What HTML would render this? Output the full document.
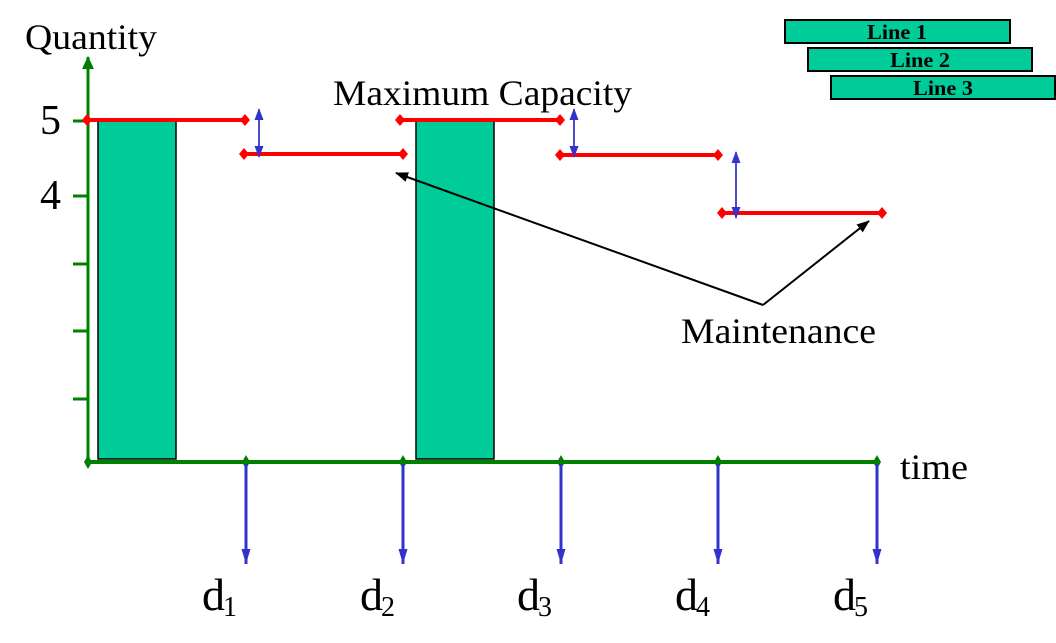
<!DOCTYPE html>
<html><head><style>
html,body{margin:0;padding:0;background:#fff;}
svg{display:block;font-family:"Liberation Serif",serif;}
</style></head><body>
<svg width="1056" height="643" viewBox="0 0 1056 643" xmlns="http://www.w3.org/2000/svg">
<defs>
<marker id="bl" markerWidth="12" markerHeight="12" refX="11" refY="6" orient="auto" markerUnits="userSpaceOnUse"><path d="M0,1.5 L12,6 L0,10.5 Z" fill="#3333cc"/></marker>
<marker id="bd" markerWidth="16" markerHeight="12" refX="15" refY="6" orient="auto" markerUnits="userSpaceOnUse"><path d="M0,1.5 L15,6 L0,10.5 Z" fill="#3333cc"/></marker>
<marker id="bk" markerWidth="14" markerHeight="12" refX="12" refY="6" orient="auto" markerUnits="userSpaceOnUse"><path d="M0,1 L13,6 L0,11 Z" fill="#000"/></marker>
<marker id="gr" markerWidth="14" markerHeight="14" refX="12" refY="7" orient="auto" markerUnits="userSpaceOnUse"><path d="M0,1 L13,7 L0,13 Z" fill="#008000"/></marker>
</defs>
<text x="25" y="49" font-size="36" textLength="132" lengthAdjust="spacingAndGlyphs">Quantity</text>
<rect x="98" y="121" width="78" height="338" fill="#00cc99" stroke="#000" stroke-width="1.5"/>
<rect x="416" y="121" width="78" height="338" fill="#00cc99" stroke="#000" stroke-width="1.5"/>
<line x1="88" y1="462" x2="88" y2="57" stroke="#008000" stroke-width="3" marker-end="url(#gr)"/>
<g stroke="#008000" stroke-width="3">
<line x1="73" y1="121" x2="88" y2="121"/><line x1="73" y1="196" x2="88" y2="196"/>
<line x1="73" y1="264" x2="88" y2="264"/><line x1="73" y1="331" x2="88" y2="331"/>
<line x1="73" y1="399" x2="88" y2="399"/>
<line x1="88" y1="462" x2="877" y2="462" stroke-width="4"/>
</g>
<g fill="#008000">
<path d="M88,455 L92,462 L88,469 L84,462Z"/><path d="M246,455 L250,462 L246,469 L242,462Z"/>
<path d="M403,455 L407,462 L403,469 L399,462Z"/><path d="M561,455 L565,462 L561,469 L557,462Z"/>
<path d="M718,455 L722,462 L718,469 L714,462Z"/><path d="M877,455 L881,462 L877,469 L873,462Z"/>
</g>
<text x="40" y="134" font-size="42">5</text>
<text x="40" y="209" font-size="42">4</text>
<text x="900" y="479" font-size="36" textLength="68" lengthAdjust="spacingAndGlyphs">time</text>
<g stroke="#3333cc" stroke-width="3" marker-end="url(#bd)">
<line x1="246" y1="464" x2="246" y2="564"/><line x1="403" y1="464" x2="403" y2="564"/>
<line x1="561" y1="464" x2="561" y2="564"/><line x1="718" y1="464" x2="718" y2="564"/>
<line x1="877" y1="464" x2="877" y2="564"/>
</g>
<g font-size="46">
<text x="202" y="610">d<tspan font-size="28" dy="6" dx="-2">1</tspan></text>
<text x="360" y="610">d<tspan font-size="28" dy="6" dx="-2">2</tspan></text>
<text x="517" y="610">d<tspan font-size="28" dy="6" dx="-2">3</tspan></text>
<text x="675" y="610">d<tspan font-size="28" dy="6" dx="-2">4</tspan></text>
<text x="833" y="610">d<tspan font-size="28" dy="6" dx="-2">5</tspan></text>
</g>
<g stroke="#ff0000" stroke-width="4">
<line x1="87" y1="120" x2="245" y2="120"/><line x1="244" y1="154" x2="403" y2="154"/>
<line x1="400" y1="120" x2="560" y2="120"/><line x1="560" y1="155" x2="718" y2="155"/>
<line x1="722" y1="213" x2="882" y2="213"/>
</g>
<g fill="#ff0000">
<path d="M87,114 L92,120 L87,126 L82,120Z"/><path d="M245,114 L250,120 L245,126 L240,120Z"/>
<path d="M244,148 L249,154 L244,160 L239,154Z"/><path d="M403,148 L408,154 L403,160 L398,154Z"/>
<path d="M400,114 L405,120 L400,126 L395,120Z"/><path d="M560,114 L565,120 L560,126 L555,120Z"/>
<path d="M560,149 L565,155 L560,161 L555,155Z"/><path d="M718,149 L723,155 L718,161 L713,155Z"/>
<path d="M722,207 L727,213 L722,219 L717,213Z"/><path d="M882,207 L887,213 L882,219 L877,213Z"/>
</g>
<g stroke="#3333cc" stroke-width="1.5" marker-end="url(#bl)">
<line x1="259" y1="156" x2="259" y2="109"/>
<line x1="259" y1="110" x2="259" y2="157"/>
<line x1="574" y1="156" x2="574" y2="109"/>
<line x1="574" y1="110" x2="574" y2="157"/>
<line x1="736" y1="217" x2="736" y2="152"/>
<line x1="736" y1="153" x2="736" y2="218"/>
</g>
<text x="333" y="105" font-size="36" textLength="299" lengthAdjust="spacingAndGlyphs">Maximum Capacity</text>
<text x="681" y="343" font-size="36" textLength="195" lengthAdjust="spacingAndGlyphs">Maintenance</text>
<g stroke="#000" stroke-width="2">
<line x1="763" y1="305" x2="396" y2="173" marker-end="url(#bk)"/>
<line x1="763" y1="305" x2="869" y2="221" marker-end="url(#bk)"/>
</g>
<g stroke="#000" stroke-width="2" fill="#00cc99">
<rect x="785" y="20" width="225" height="23"/>
<rect x="808" y="48" width="224" height="23"/>
<rect x="831" y="76" width="224" height="23"/>
</g>
<g font-size="21" font-weight="bold">
<text x="867" y="39" textLength="60" lengthAdjust="spacingAndGlyphs">Line 1</text>
<text x="890" y="67" textLength="60" lengthAdjust="spacingAndGlyphs">Line 2</text>
<text x="913" y="95" textLength="60" lengthAdjust="spacingAndGlyphs">Line 3</text>
</g>
</svg>
</body></html>
